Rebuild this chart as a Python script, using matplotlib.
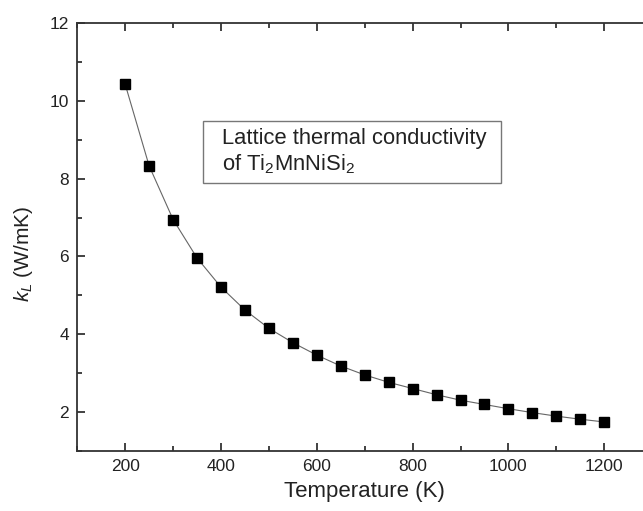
"""
Lattice thermal conductivity of Ti2MnNiSi2 vs temperature.
"""

import numpy as np
import matplotlib
matplotlib.use("Agg")
import matplotlib.pyplot as plt
from matplotlib.patches import Rectangle

# datos
temperature = [200, 250, 300, 350, 400, 450, 500, 550, 600, 650, 700,
               750, 800, 850, 900, 950, 1000, 1050, 1100, 1150, 1200]
kappa_l = [10.43, 8.33, 6.95, 5.96, 5.21, 4.62, 4.15, 3.78, 3.46, 3.18, 2.95,
           2.76, 2.60, 2.44, 2.30, 2.19, 2.08, 1.98, 1.89, 1.81, 1.74]

x_ticks = [200, 400, 600, 800, 1000, 1200]
y_ticks = [2, 4, 6, 8, 10, 12]
box_text = "Lattice thermal conductivity\nof Ti$_2$MnNiSi$_2$"

plt.rcParams['font.family'] = ['Liberation Sans', 'DejaVu Sans']
plt.rcParams['mathtext.fontset'] = 'custom'
plt.rcParams['mathtext.rm'] = 'Liberation Sans'
plt.rcParams['mathtext.it'] = 'Liberation Sans:italic'

fig = plt.figure(figsize=(6.43, 5.11), dpi=100)
ax = fig.add_axes([0.1202, 0.118, 0.894, 0.8364])

ax.plot(temperature, kappa_l, color='#666666', lw=0.8, zorder=2)
ax.plot(temperature, kappa_l, ls='none', marker='s', ms=6.8,
        color='black', zorder=3)

ax.set_xlim(100, 1300)
ax.set_ylim(1, 12)
ax.set_xticks(x_ticks)
ax.set_yticks(y_ticks)
ax.set_xticks(np.arange(100, 1300, 100), minor=True)
ax.set_yticks(np.arange(1, 12, 1), minor=True)

for side in ax.spines.values():
    side.set_linewidth(1.3)
    side.set_color('#333333')

ax.tick_params(which='both', direction='in', top=True, right=True,
               width=1.3, color='#333333', labelsize=12.5, labelcolor='#222222')
ax.tick_params(which='major', length=6, pad=6)
ax.tick_params(which='minor', length=3.5)

ax.set_xlabel('Temperature (K)', fontsize=16, color='#222222')
ax.set_ylabel('$k_L$ (W/mK)', fontsize=15, color='#222222')
ax.xaxis.set_label_coords(0.5, -0.07)
ax.yaxis.set_label_coords(-0.074, 0.46)

# caja de texto
ax.add_patch(Rectangle((0.2187, 0.6263), 0.5185, 0.1451, transform=ax.transAxes,
                       fill=False, edgecolor='#777777', lw=1.0, zorder=4))
ax.text(0.2518, 0.699, box_text, transform=ax.transAxes, fontsize=15.8,
        color='#222222', va='center', ha='left', linespacing=1.15, zorder=5)

fig.savefig('out.png', dpi=100)
